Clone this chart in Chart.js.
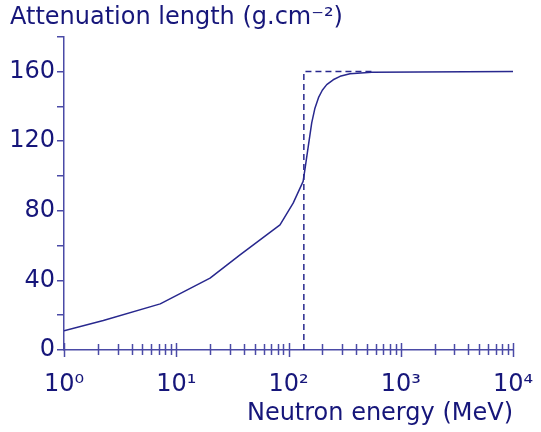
<!DOCTYPE html>
<html>
<head>
<meta charset="utf-8">
<script src="https://cdn.jsdelivr.net/npm/chart.js@4.4.1/dist/chart.umd.min.js"></script>
<style>
  html, body { margin: 0; padding: 0; background: #fff; }
  #wrap { width: 541px; height: 432px; }
</style>
</head>
<body>
<div id="wrap"><canvas id="atten" width="541" height="432"></canvas></div>
<script>
// curve (energy in MeV, attenuation length in g/cm2)
const energy = [1, 2.24, 7.2, 20, 37, 84, 110, 135, 140, 150, 161, 172, 185, 200, 219, 250, 288, 353, 551, 10000];
const attenuation = [11, 17, 26.5, 41.3, 54.7, 71.9, 84.4, 96.9, 103.6, 117, 130.5, 139, 145, 149.3, 152.5, 155.3, 157.3, 158.8, 159.6, 160];

// dashed step (sharp cut-off approximation)
const stepEnergy = [137, 137, 551];
const stepAtten = [0, 160, 160];

// axis ticks
const decades = [1, 10, 100, 1000, 10000];
const decadeLabels = ['10⁰', '10¹', '10²', '10³', '10⁴'];
const minorSteps = [2, 3, 4, 5, 6, 7, 8, 9];
const yLabelled = [0, 40, 80, 120, 160];

const ink = '#16167a';
const axisBlue = '#4a4aa6';
const lineBlue = '#28288e';
const fontFam = '"DejaVu Sans", sans-serif';

const xTickValues = [];
decades.forEach((d, i) => {
    xTickValues.push(d);
    if (i < decades.length - 1) minorSteps.forEach(m => xTickValues.push(d * m));
});

// x ticks straddle the axis line, so draw them by hand from the scale
const xTickMarks = {
    id: 'xTickMarks',
    afterDraw(chart) {
        const sx = chart.scales.x;
        const y0 = chart.chartArea.bottom;
        const ctx = chart.ctx;
        ctx.save();
        ctx.strokeStyle = axisBlue;
        ctx.lineWidth = 1.5;
        sx.ticks.forEach(t => {
            const px = Math.round(sx.getPixelForValue(t.value)) + 0.5;
            const big = decades.includes(t.value);
            ctx.beginPath();
            ctx.moveTo(px, y0 - (big ? 7 : 6));
            ctx.lineTo(px, y0 + (big ? 7 : 5));
            ctx.stroke();
        });
        ctx.restore();
    }
};

new Chart(document.getElementById('atten').getContext('2d'), {
    type: 'scatter',
    data: {
        datasets: [
            {
                label: 'Attenuation length',
                data: energy.map((e, i) => ({ x: e, y: attenuation[i] })),
                showLine: true,
                borderColor: lineBlue,
                borderWidth: 1.5,
                borderJoinStyle: 'round',
                pointRadius: 0,
                tension: 0
            },
            {
                label: 'Step',
                data: stepEnergy.map((e, i) => ({ x: e, y: stepAtten[i] })),
                showLine: true,
                borderColor: lineBlue,
                borderWidth: 1.5,
                borderDash: [6, 4],
                pointRadius: 0
            }
        ]
    },
    options: {
        responsive: false,
        animation: false,
        layout: { padding: { left: 10, right: 28, top: 0, bottom: 0 } },
        plugins: {
            legend: { display: false },
            tooltip: { enabled: false },
            title: {
                display: true,
                text: 'Attenuation length (g.cm⁻²)',
                align: 'start',
                color: ink,
                font: { family: fontFam, size: 24, weight: 'normal' },
                padding: { top: 3, bottom: 5 }
            }
        },
        scales: {
            x: {
                type: 'logarithmic',
                min: 1,
                max: 10000,
                afterBuildTicks: s => { s.ticks = xTickValues.map(v => ({ value: v })); },
                afterFit: s => { s.height = 82; s.paddingLeft = 0; s.paddingRight = 0; },
                border: { display: true, color: axisBlue, width: 1.5 },
                grid: { display: true, drawOnChartArea: false, drawTicks: false },
                ticks: {
                    autoSkip: false,
                    maxRotation: 0,
                    padding: 20,
                    color: ink,
                    font: { family: fontFam, size: 24 },
                    callback: v => {
                        const i = decades.indexOf(v);
                        return i >= 0 ? decadeLabels[i] : '';
                    }
                },
                title: {
                    display: true,
                    text: 'Neutron energy (MeV)',
                    align: 'end',
                    color: ink,
                    font: { family: fontFam, size: 24 },
                    padding: { top: 0, bottom: 4 }
                }
            },
            y: {
                min: 0,
                max: 180,
                afterFit: s => { s.width = 54; },
                border: { display: true, color: axisBlue, width: 1.5 },
                grid: { display: true, drawOnChartArea: false, drawTicks: true, tickLength: 7, color: axisBlue, lineWidth: 1.5 },
                ticks: {
                    stepSize: 20,
                    padding: 2,
                    color: ink,
                    font: { family: fontFam, size: 24 },
                    callback: v => (yLabelled.includes(v) ? String(v) : '')
                }
            }
        }
    },
    plugins: [xTickMarks]
});
</script>
</body>
</html>
